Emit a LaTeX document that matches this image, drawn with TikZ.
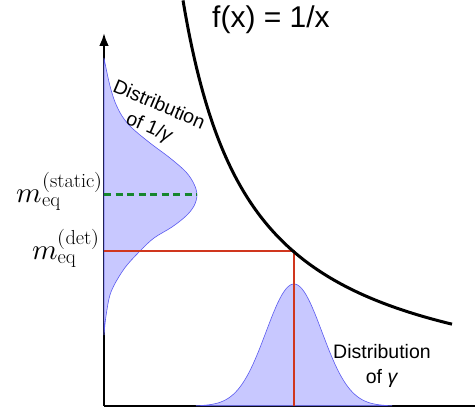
\documentclass[tikz,border=0pt]{standalone}
\usepackage{fontspec}
\usepackage{unicode-math}
\setsansfont{Liberation Sans}
\usetikzlibrary{arrows.meta}
\definecolor{densblue}{HTML}{C8C8FF}
\definecolor{edgeblue}{HTML}{5A5AF0}
\definecolor{detred}{HTML}{D0361E}
\definecolor{statgreen}{HTML}{17862E}
\tikzset{
  >=Latex,
  axisline/.style={line width=2.2pt,draw=black},
  densfill/.style={fill=densblue,draw=edgeblue,line width=0.6pt},
  detline/.style={line width=2pt,draw=detred},
  staticline/.style={line width=3pt,draw=statgreen,dash pattern=on 7pt off 4.5pt},
  recip/.style={line width=3pt,draw=black},
  distlabel/.style={font=\sffamily\fontsize{19.5}{24.5}\selectfont,align=center,inner sep=0pt},
  mlabel/.style={font=\fontsize{29}{34}\selectfont,inner sep=0pt}
}
\begin{document}
\begin{tikzpicture}[x=1pt,y=-1pt]
  \useasboundingbox (0,0) rectangle (475,417);
  \coordinate (origin) at (104,406);
  \coordinate (ytop) at (104,33);
  \coordinate (xend) at (475,406);
  \coordinate (ydet) at (104,251);
  \coordinate (hit) at (294,251);
  \coordinate (gbase) at (294,406);
  \coordinate (ystat) at (104,195);
  \coordinate (peak) at (197,195);

  % axes
  \draw[axisline] (origin) -- (xend);
  \draw[axisline,->] (origin) -- (ytop);

  % distribution of 1/gamma along the y axis
  \filldraw[densfill] plot[smooth,tension=0.55] coordinates {(104,58) (106,68) (110,86) (115,102) (122,116) (132,128) (150,143) (170,158) (186,172) (194,184) (197,195) (194,206) (186,216) (172,227) (154,238) (140,251) (124,269) (111,292) (106,316) (104,335)} -- cycle;
  % distribution of gamma along the x axis
  \filldraw[densfill,domain=196:392,samples=90] plot (\x,{406-122*exp(-0.5*((\x-294)/28)*((\x-294)/28))}) -- cycle;

  \draw[detline] (ydet) -- (hit) -- (gbase);
  \draw[staticline] (ystat) -- (peak);

  % f(x) = 1/x
  \draw[recip,domain=183:452,samples=120] plot (\x,{406-275.8/((\x-115)/100)});

  \node[font=\sffamily\fontsize{30}{36}\selectfont,anchor=base,inner sep=0pt] (title) at (271,28) {f(x) = 1/x};
  \node[distlabel,rotate=-23] (invlabel) at (154,117) {Distribution\\of 1/\textit{γ}};
  \node[distlabel] (gamlabel) at (382,366) {Distribution\\of \textit{γ}};
  \node[mlabel,anchor=base east] (mstat) at (103,203) {$m_{\mathrm{eq}}^{(\mathrm{static})}$};
  \node[mlabel,anchor=base east] (mdet) at (100,260) {$m_{\mathrm{eq}}^{(\mathrm{det})}$};
\end{tikzpicture}
\end{document}
